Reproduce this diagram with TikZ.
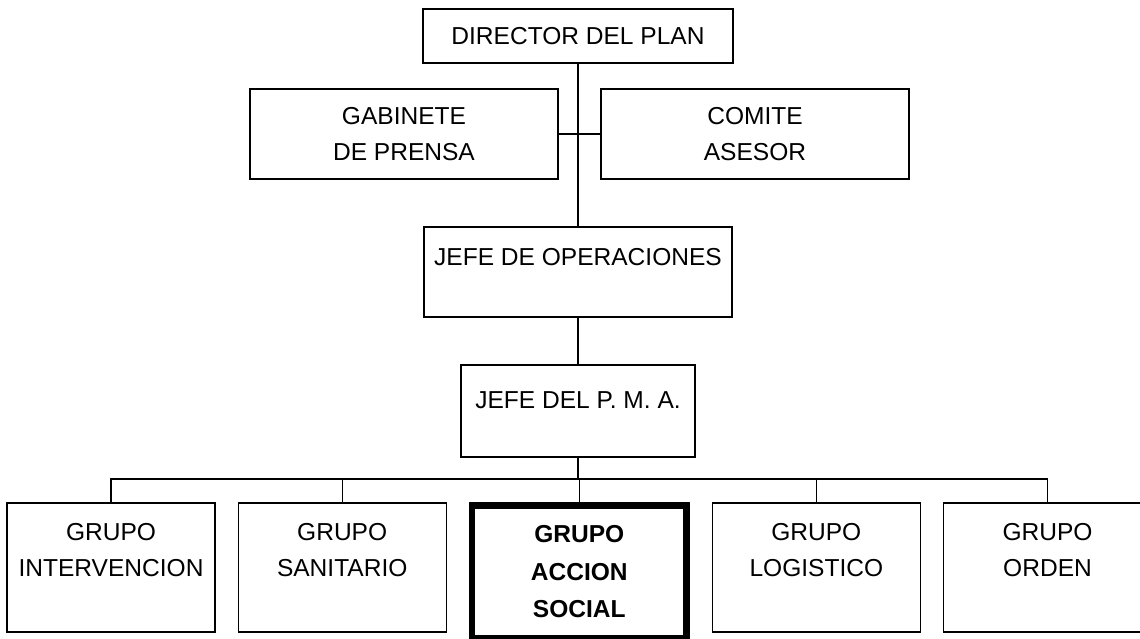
\documentclass[tikz,border=0pt]{standalone}
\usepackage{fontspec}
\setmainfont{Liberation Sans}
\usetikzlibrary{positioning}

\begin{document}
\begin{tikzpicture}[x=0.75pt,y=-0.75pt,line width=0.9pt,node distance=16.5pt,
    caja/.style={draw,inner sep=0pt,align=center,font=\fontsize{18.4}{27}\selectfont},
    alta/.style={caja,minimum width=231pt,minimum height=67.5pt},
    grupo/.style={caja,minimum width=156pt,minimum height=96.75pt},
    social/.style={grupo,line width=5pt,minimum width=160.7pt,minimum height=99.2pt,font=\fontsize{18.4}{28}\selectfont\bfseries}]
            \useasboundingbox (0,0) rectangle (1140,639);
            \node[caja,minimum width=232.5pt,minimum height=40.5pt] (dir) at (578,36) {DIRECTOR DEL PLAN};
            \node[alta] (gab) at (404,134) {GABINETE\\DE PRENSA};
            \node[alta] (com) at (755,134) {COMITE\\ASESOR};
            \node[alta] (jop) at (578,272) {JEFE DE OPERACIONES\\[-4.5pt]~};
            \node[caja,minimum width=175.5pt,minimum height=69pt] (pma) at (578,411) {JEFE DEL P. M. A.\\[-10pt]~};
            \node[grupo] (int) at (111,567.5) {GRUPO\\INTERVENCION\\~};
            \node[grupo] (san) [right=of int] {GRUPO\\SANITARIO\\~};
            \node[social] (acc) [right=of san.north east,anchor=north west] {GRUPO\\ACCION\\SOCIAL};
            \node[grupo] (log) [right=of acc.north east,anchor=north west] {GRUPO\\LOGISTICO\\~};
            \node[grupo] (ord) [right=of log] {GRUPO\\ORDEN\\~};
            \coordinate (bus) at (578,479);

            \path
                    (dir) edge (jop)
                    (gab) edge (com)
                    (jop) edge (pma)
                ;
            \draw (pma.south) -- (bus);
            \draw (int.north) |- (bus) -| (ord.north);
            \draw (san.north) -- (san.north |- bus);
            \draw (acc.north) -- (acc.north |- bus);
            \draw (log.north) -- (log.north |- bus);
        \end{tikzpicture}
\end{document}
